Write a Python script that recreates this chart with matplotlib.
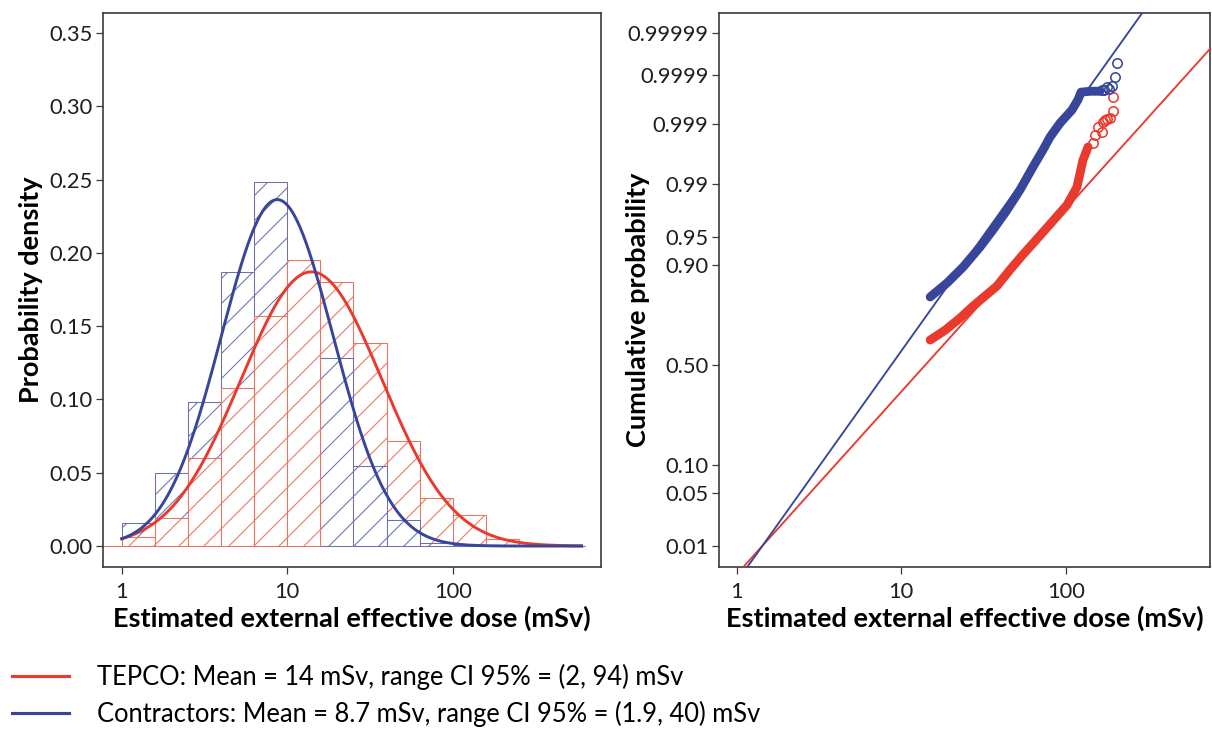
import statistics
import numpy as np
import matplotlib
matplotlib.use("Agg")
import matplotlib.pyplot as plt
from matplotlib.ticker import FixedLocator, FixedFormatter, NullLocator
from matplotlib.lines import Line2D

plt.rcParams['font.family'] = ['Lato', 'DejaVu Sans']
plt.rcParams['hatch.linewidth'] = 1.0

RED = '#ea3a2e'
BLUE = '#37469b'
RED_BAR = '#f2705e'
BLUE_BAR = '#6a6fb6'
SPINE = '#3a3a3a'

# histogram: 0.2-decade bins (mSv) and fraction of workers per bin
bin_edges = [0.631, 1.0, 1.585, 2.512, 3.981, 6.310, 10.0, 15.85, 25.12,
             39.81, 63.10, 100.0, 158.5, 251.2, 398.1, 631.0]
tepco_hist = [0.0, 0.0064, 0.0193, 0.0598, 0.1076, 0.157, 0.195, 0.180,
              0.1387, 0.0716, 0.0325, 0.0211, 0.0045, 0.0010, 0.0002]
contractor_hist = [0.0, 0.0155, 0.0496, 0.0984, 0.187, 0.248, 0.195, 0.128,
                   0.0546, 0.0177, 0.0023, 0.0009, 0.0002, 0.0, 0.0]

# lognormal fits (legend values)
tepco_mean = 14.0
tepco_ci = (2.0, 94.0)
contractor_mean = 8.7
contractor_ci = (1.9, 40.0)

# probability plot: dense part and sparse tail
tepco_dose = [15.0, 18.5, 22.8, 27.3, 32.0, 38.2, 46.0, 55.0, 65.0, 76.9,
              90.0, 101.8, 117.0, 127.4, 136.7]
tepco_prob = [0.626, 0.673, 0.727, 0.775, 0.810, 0.845, 0.890, 0.922, 0.944,
              0.961, 0.973, 0.980, 0.9888, 0.99576, 0.99744]
tepco_tail_dose = [146.7, 150.7, 157.0, 166.2, 168.6, 173.4, 177.6, 186.0,
                   193.0, 194.0]
tepco_tail_prob = [0.99781, 0.99843, 0.99887, 0.99861, 0.99910, 0.99917,
                   0.99921, 0.99924, 0.99945, 0.99971]

contractor_dose = [15.0, 19.0, 23.8, 30.1, 36.1, 44.0, 52.7, 63.2, 72.7,
                   80.3, 92.3, 109.1, 118.8, 123.9, 140.7, 161.8]
contractor_prob = [0.809, 0.854, 0.896, 0.935, 0.9585, 0.9767, 0.9877,
                   0.99449, 0.99711, 0.99829, 0.99905, 0.99947, 0.99967,
                   0.99977, 0.99978, 0.99978]
contractor_tail_dose = [166.0, 172.0, 178.0, 184.0, 190.4, 199.5, 206.0]
contractor_tail_prob = [0.99979, 0.99979, 0.99982, 0.99980, 0.99983,
                        0.99989, 0.999946]

prob_ticks = [0.01, 0.05, 0.10, 0.50, 0.90, 0.95, 0.99, 0.999, 0.9999, 0.99999]
prob_labels = ['0.01', '0.05', '0.10', '0.50', '0.90', '0.95', '0.99',
               '0.999', '0.9999', '0.99999']
dose_ticks = [1, 10, 100]
dose_labels = ['1', '10', '100']
dens_ticks = [0.0, 0.05, 0.10, 0.15, 0.20, 0.25, 0.30, 0.35]
dens_labels = ['0.00', '0.05', '0.10', '0.15', '0.20', '0.25', '0.30', '0.35']

legend_labels = ['TEPCO: Mean = 14 mSv, range CI 95% = (2, 94) mSv',
                 'Contractors: Mean = 8.7 mSv, range CI 95% = (1.9, 40) mSv']


def lognorm_params(mean, ci):
    mu = np.log10(mean)
    sigma = (np.log10(ci[1]) - np.log10(ci[0])) / (2 * 1.96)
    return mu, sigma


_nd = statistics.NormalDist()
_ppf = np.vectorize(_nd.inv_cdf, otypes=[float])
_cdf = np.vectorize(_nd.cdf, otypes=[float])


def probit(p):
    p = np.clip(np.asarray(p, dtype=float), 1e-12, 1 - 1e-12)
    return _ppf(p)


def inv_probit(z):
    return _cdf(np.asarray(z, dtype=float))


fig = plt.figure(figsize=(1212 / 75, 731 / 75), dpi=75)
ax1 = fig.add_axes([103 / 1212, 164 / 731, 498 / 1212, 554 / 731])
ax2 = fig.add_axes([719 / 1212, 164 / 731, 491 / 1212, 554 / 731])

# ---- left: histogram + fitted curves ----
edges = np.array(bin_edges)
lefts = edges[:-1]
widths = edges[1:] - edges[:-1]
bin_dec = np.log10(edges[1]) - np.log10(edges[0])

bars_c = ax1.bar(lefts, contractor_hist, width=widths, align='edge',
                 facecolor='white', edgecolor=BLUE_BAR, hatch='/', lw=1.0)
bars_t = ax1.bar(lefts, tepco_hist, width=widths, align='edge',
                 facecolor='white', edgecolor=RED_BAR, hatch='/', lw=1.0)
# shorter bar of each bin in front
for pc, pt, hc, ht in zip(bars_c, bars_t, contractor_hist, tepco_hist):
    if hc < ht:
        pt.set_zorder(1)
        pc.set_zorder(2)
    else:
        pc.set_zorder(1)
        pt.set_zorder(2)

xs = np.logspace(0, np.log10(600), 300)
for mean, ci, col in [(tepco_mean, tepco_ci, RED),
                      (contractor_mean, contractor_ci, BLUE)]:
    mu, sg = lognorm_params(mean, ci)
    zz = (np.log10(xs) - mu) / sg
    dens = bin_dec * np.exp(-0.5 * zz ** 2) / (sg * np.sqrt(2 * np.pi))
    ax1.plot(xs, dens, color=col, lw=2.8, zorder=5)

ax1.set_xscale('log')
ax1.set_xlim(0.77, 787)
ax1.set_ylim(-0.0143, 0.3636)
ax1.xaxis.set_major_locator(FixedLocator(dose_ticks))
ax1.xaxis.set_major_formatter(FixedFormatter(dose_labels))
ax1.xaxis.set_minor_locator(NullLocator())
ax1.yaxis.set_major_locator(FixedLocator(dens_ticks))
ax1.yaxis.set_major_formatter(FixedFormatter(dens_labels))
ax1.set_ylabel('Probability density', fontsize=26, fontweight='bold')
ax1.yaxis.set_label_coords(-0.121, 0.5)
ax1.set_xlabel('Estimated external effective dose (mSv)', fontsize=26,
               fontweight='bold', labelpad=4)

# ---- right: probability plot ----
ax2.set_xscale('log')
ax2.set_yscale('function', functions=(probit, inv_probit))
xl = np.array([0.78, 754])
for mean, ci, col in [(tepco_mean, tepco_ci, RED),
                      (contractor_mean, contractor_ci, BLUE)]:
    mu, sg = lognorm_params(mean, ci)
    ax2.plot(xl, inv_probit((np.log10(xl) - mu) / sg), color=col, lw=1.8,
             zorder=3)

ax2.plot(tepco_dose, tepco_prob, color=RED, lw=8.5, solid_capstyle='round',
         solid_joinstyle='round', zorder=4)
ax2.plot(contractor_dose, contractor_prob, color=BLUE, lw=8.5,
         solid_capstyle='round', solid_joinstyle='round', zorder=4)
ax2.plot(tepco_tail_dose, tepco_tail_prob, 'o', mfc='none', mec=RED, ms=9,
         mew=1.5, zorder=4)
ax2.plot(contractor_tail_dose, contractor_tail_prob, 'o', mfc='none', mec=BLUE,
         ms=9, mew=1.5, zorder=4)

ax2.set_xlim(0.78, 754)
ax2.set_ylim(0.00476, 0.9999969)
ax2.xaxis.set_major_locator(FixedLocator(dose_ticks))
ax2.xaxis.set_major_formatter(FixedFormatter(dose_labels))
ax2.xaxis.set_minor_locator(NullLocator())
ax2.yaxis.set_major_locator(FixedLocator(prob_ticks))
ax2.yaxis.set_major_formatter(FixedFormatter(prob_labels))
ax2.yaxis.set_minor_locator(NullLocator())
ax2.set_ylabel('Cumulative probability', fontsize=26, fontweight='bold')
ax2.yaxis.set_label_coords(-0.14, 0.464)
ax2.set_xlabel('Estimated external effective dose (mSv)', fontsize=26,
               fontweight='bold', labelpad=4)

for ax in (ax1, ax2):
    for s in ax.spines.values():
        s.set_color(SPINE)
        s.set_linewidth(1.6)
    ax.tick_params(direction='out', length=7, width=1.2, color=SPINE,
                   labelsize=21, pad=3, labelcolor='#1e1e1e')
    ax.tick_params(axis='x', pad=7)

handles = [Line2D([], [], color=RED, lw=3), Line2D([], [], color=BLUE, lw=3)]
fig.legend(handles, legend_labels, loc='upper left',
           bbox_to_anchor=(12 / 1212, 1 - 664 / 731), frameon=False,
           fontsize=24.5, handlelength=2.25, handletextpad=1.1,
           labelspacing=0.42, borderpad=0, borderaxespad=0)

fig.savefig('out.png', dpi=75)
